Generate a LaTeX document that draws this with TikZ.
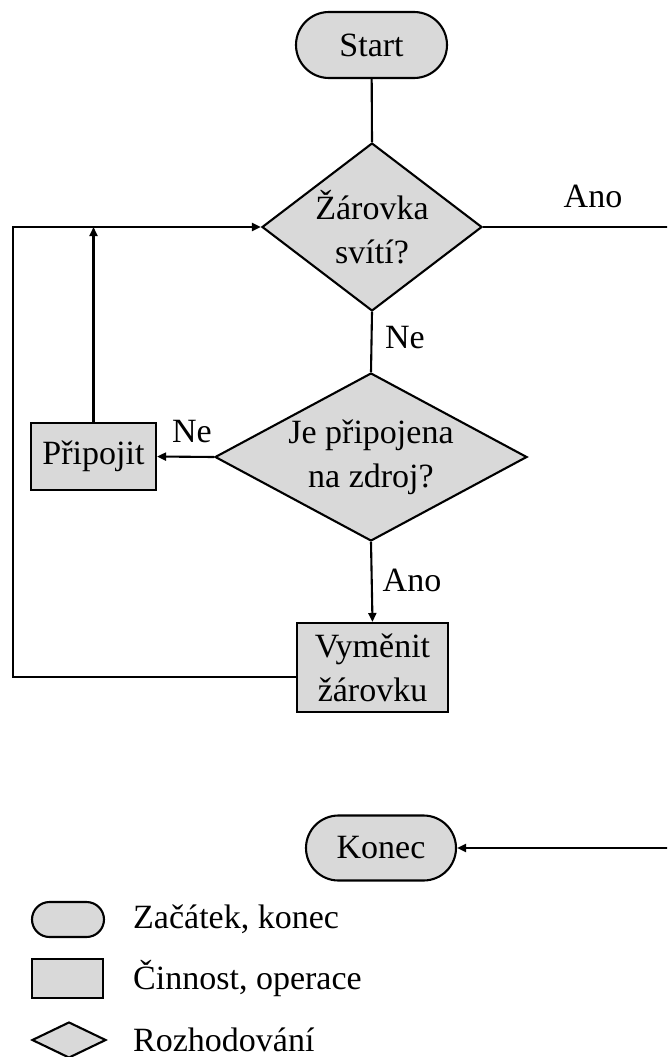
\documentclass[tikz,border=0pt]{standalone}
\usepackage{fontspec}
\setmainfont{Liberation Serif}
\usetikzlibrary{shapes.geometric,shapes.misc,arrows.meta,calc}
\begin{document}
\begin{tikzpicture}[x=1pt,y=-1pt,
  every node/.style={font=\fontsize{34}{44}\selectfont},
  shapebase/.style={draw=black,line width=2.1pt,fill=black!15,inner sep=0pt,align=center},
  term/.style={shapebase,rounded rectangle,minimum width=151pt,minimum height=66pt},
  proc/.style={shapebase,rectangle,minimum width=125pt,minimum height=67pt},
  dec/.style={shapebase,diamond,shape aspect=1.31,minimum width=220pt,minimum height=168pt},
  conn/.style={line width=2.1pt},
  arr/.style={conn,-{Triangle[length=9pt,width=8pt]}},
  lbl/.style={inner sep=0pt},
  leg/.style={inner sep=0pt,anchor=west,font=\fontsize{34}{40}\selectfont}]
\clip (0,0) rectangle (667,1057);
\fill[white] (0,0) rectangle (667,1057);

\node[term] (start) at (371.5,45) {Start};
\node[dec] (d1) at (372,227) {Žárovka\\svítí?};
\node[dec,shape aspect=1.86,minimum width=312pt] (d2) at (371,457) {Je připojena\\na zdroj?};
\node[proc] (pr) at (93.5,456.5) {Připojit};
\node[proc,minimum width=151pt,minimum height=89pt] (vym) at (372.5,667.5) {Vyměnit\\žárovku};
\node[term,minimum width=150pt,minimum height=65pt] (konec) at (381,848) {Konec};

\draw[conn] (start) -- (d1.north);
\draw[conn] (d1.south) -- (d2.north);
\draw[arr] (d2.west) -- (pr.east);
\draw[arr] (d2.south) -- (vym.north);
\draw[arr] (pr.north) -- (pr.north |- d1.west);
\coordinate (vl) at ($(vym.west)+(0,9.5)$);
\coordinate (lc) at (13,227);
\draw[arr] (vl) -| (lc) -- (d1.west);
\coordinate (rc) at (690,227);
\draw[arr] (d1.east) -- (rc) |- (konec.east);

\node[lbl] (l1) at (593,196) {Ano};
\node[lbl] (l2) at (405,338) {Ne};
\node[lbl] (l3) at (192,432) {Ne};
\node[lbl] (l4) at (412,580) {Ano};

\node[shapebase,rounded rectangle,minimum width=72pt,minimum height=35pt] (lg1) at (68,919.5) {};
\node[shapebase,rectangle,minimum width=71pt,minimum height=39pt] (lg2) at (67.5,978.5) {};
\node[shapebase,diamond,shape aspect=2,minimum width=74pt,minimum height=36pt] (lg3) at (69,1040) {};
\node[leg] (t1) at (133,919) {Začátek, konec};
\node[leg] (t2) at (133,979) {Činnost, operace};
\node[leg] (t3) at (133,1040) {Rozhodování};
\end{tikzpicture}
\end{document}
